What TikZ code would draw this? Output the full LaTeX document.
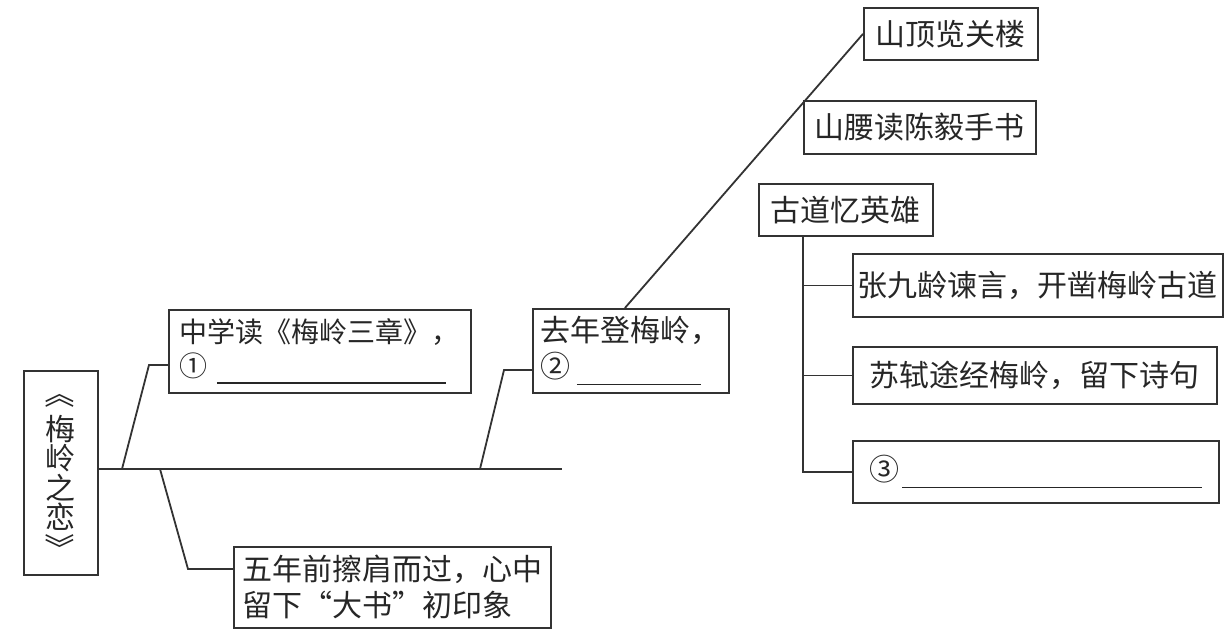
\documentclass[tikz,border=0pt]{standalone}
\usepackage{fontspec}
\newfontfamily\cjk{Noto Sans CJK SC}
\usetikzlibrary{positioning}
\begin{document}
\begin{tikzpicture}[x=0.5pt, y=-0.5pt, line width=0.9pt, draw=black!80]
    \tikzset{box/.style={draw=black!80, anchor=north west, inner sep=0pt, align=left,
        text=black!85, font=\cjk\fontsize{15}{18}\selectfont}}
    \tikzset{vbracket/.style={inner sep=0pt, rotate=-90, text=black!85, font=\cjk\fontsize{15}{15}\selectfont}}
    \useasboundingbox (0,0) rectangle (1224,636);
    % left part
    \node[box, align=center, minimum width=37pt, minimum height=102pt, font=\cjk\fontsize{15}{14.8}\selectfont] (title) at (23,370)
        {梅\\岭\\之\\恋};
    \node[vbracket] (titleopen) at (60,393) {《};
    \node[vbracket] (titleclose) at (60,548) {》};
    \node[box, minimum width=151pt, minimum height=41.5pt, font=\cjk\fontsize{14}{17}\selectfont] (school) at (168,309)
        {中学读《梅岭三章》，\\①\hspace{4.5pt}\rule[-3.7pt]{114.5pt}{0.8pt}};
    \node[box, minimum width=158.5pt, minimum height=40.5pt] (glimpse) at (233,546)
        {五年前擦肩而过，心中\\留下\makebox[1em][r]{“}大书\makebox[1em][l]{”}初印象};
    \node[box, minimum width=98pt, minimum height=42pt] (climb) at (532,308)
        {去年登梅岭，\\②\hspace{3pt}\rule[-3.7pt]{62pt}{0.8pt}};
    % right part
    \node[box, minimum width=87pt, minimum height=26pt] (summit) at (863,7) {山顶览关楼};
    \node[box, minimum width=116pt, minimum height=26.5pt] (waist) at (803,100) {山腰读陈毅手书};
    \node[box, minimum width=87pt, minimum height=26pt] (hero) at (758,183) {古道忆英雄};
    \node[box, minimum width=185pt, minimum height=31.5pt] (zhang) at (852,253) {张九龄谏言，开凿梅岭古道};
    \node[box, minimum width=182pt, minimum height=28.5pt] (su) at (852,346) {苏轼途经梅岭，留下诗句};
    \node[box, minimum width=183pt, minimum height=31pt] (third) at (852,440)
        {③\hspace{1.5pt}\rule[-3.7pt]{150pt}{0.8pt}};
    % trunk and branches
    \coordinate (trunkend) at (562,469);
    \coordinate (fork1) at (122,469);
    \coordinate (knee1) at (149,365);
    \coordinate (fork2) at (160,469);
    \coordinate (knee2) at (188,569);
    \coordinate (fork3) at (480,469);
    \coordinate (knee3) at (504,370);
    \coordinate (spine) at (803,235);
    \draw (title.east |- trunkend) -- (trunkend);
    \draw (fork1) -- (knee1) -- (knee1 -| school.west);
    \draw (fork2) -- (knee2) -- (knee2 -| glimpse.west);
    \draw (fork3) -- (knee3) -- (knee3 -| climb.west);
    \draw ([xshift=-3pt]climb.north) -- (summit.west);
    \draw (spine) |- (third.west);
    \draw (spine |- zhang.west) -- (zhang.west);
    \draw (spine |- su.west) -- (su.west);
\end{tikzpicture}
\end{document}
